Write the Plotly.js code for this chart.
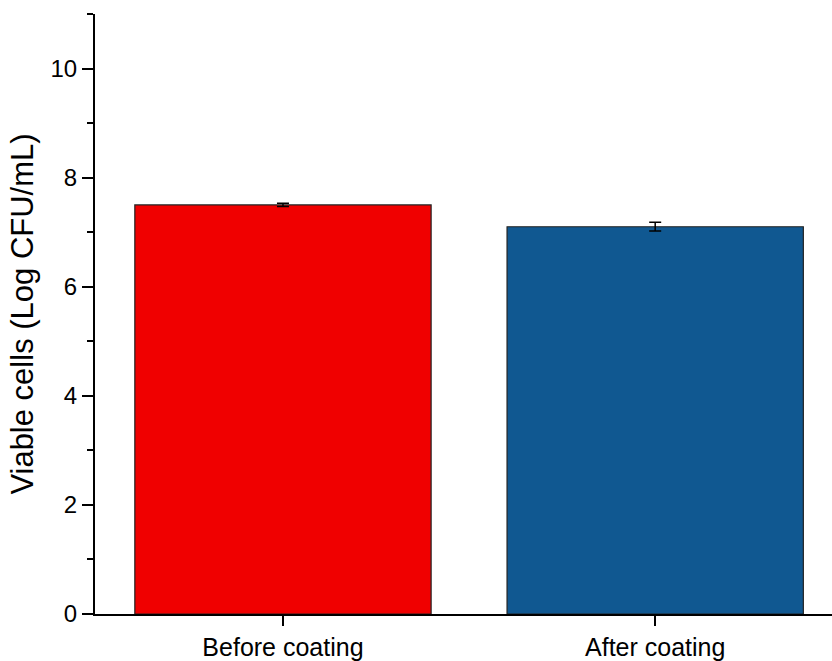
<!DOCTYPE html>
<html>
<head>
<meta charset="utf-8">
<script src="https://cdn.plot.ly/plotly-3.0.1.min.js"></script>
<style>html,body{margin:0;padding:0;background:#fff;}#chart{width:832px;height:661px;}</style>
</head>
<body>
<div id="chart"></div>
<script>
const categories = ["Before coating", "After coating"];
const values = [7.5, 7.1];
const errors = [0.03, 0.08];
const barColors = ["#f00000", "#105891"];
const yTitle = "Viable cells (Log CFU/mL)";

const trace = {
  type: "bar",
  x: categories,
  y: values,
  width: 0.796,
  marker: {color: barColors, line: {color: "#222", width: 1.2}},
  error_y: {type: "data", array: errors, visible: true, color: "#000", thickness: 1.5, width: 6}
};

const layout = {
  width: 832, height: 661,
  margin: {l: 95, r: 0, t: 14, b: 47},
  paper_bgcolor: "#fff", plot_bgcolor: "#fff",
  font: {family: "Liberation Sans, Arial, sans-serif", color: "#000", size: 22},
  showlegend: false,
  xaxis: {
    type: "category", range: [-0.505, 1.475],
    showline: true, linecolor: "#000", linewidth: 2,
    ticks: "outside", ticklen: 10, tickwidth: 2, tickcolor: "#000",
    tickfont: {size: 25}, showgrid: false, zeroline: false
  },
  yaxis: {
    range: [0, 11], tickvals: [0, 2, 4, 6, 8, 10],
    showline: true, linecolor: "#000", linewidth: 2,
    ticks: "outside", ticklen: 11, tickwidth: 2, tickcolor: "#000",
    minor: {tickvals: [1, 3, 5, 7, 9, 11], ticks: "outside", ticklen: 6, tickwidth: 2, tickcolor: "#000"},
    tickfont: {size: 24}, showgrid: false, zeroline: false,
    title: {text: yTitle, font: {size: 31}, standoff: 8}
  }
};

Plotly.newPlot("chart", [trace], layout, {displayModeBar: false, staticPlot: true});
</script>
</body>
</html>
